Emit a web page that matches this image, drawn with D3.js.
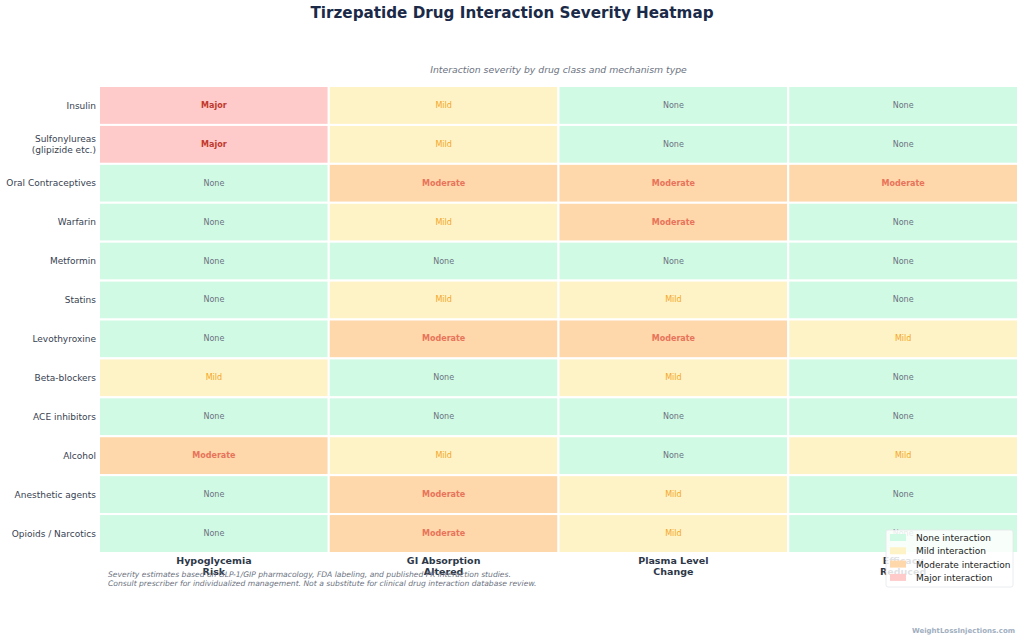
<!DOCTYPE html>
<html>
<head>
<meta charset="utf-8">
<script src="https://cdn.jsdelivr.net/npm/d3@7"></script>
<style>
  body { margin: 0; background: #fff; }
  svg { font-family: "DejaVu Sans", sans-serif; }
</style>
</head>
<body>
<div id="chart"></div>
<script>
// drug classes (rows) and mechanism types (columns)
const drugs = ["Insulin", "Sulfonylureas\n(glipizide etc.)", "Oral Contraceptives", "Warfarin", "Metformin",
  "Statins", "Levothyroxine", "Beta-blockers", "ACE inhibitors", "Alcohol", "Anesthetic agents", "Opioids / Narcotics"];
const mechanisms = ["Hypoglycemia\nRisk", "GI Absorption\nAltered", "Plasma Level\nChange", "Efficacy\nReduced"];
// 0 None, 1 Mild, 2 Moderate, 3 Major
const severity = [
  [3, 1, 0, 0],
  [3, 1, 0, 0],
  [0, 2, 2, 2],
  [0, 1, 2, 0],
  [0, 0, 0, 0],
  [0, 1, 1, 0],
  [0, 2, 2, 1],
  [1, 0, 1, 0],
  [0, 0, 0, 0],
  [2, 1, 0, 1],
  [0, 2, 1, 0],
  [0, 2, 1, 0]
];
const levels = ["None", "Mild", "Moderate", "Major"];
const fillColors = ["#d1fae5", "#fef3c7", "#fed7aa", "#fecaca"];
const textColors = ["#6b7280", "#f5a623", "#e8735a", "#c0392b"];

const width = 1024, height = 641;
const plot = {left: 99, right: 1018, top: 86, bottom: 553};

const svg = d3.select("#chart").append("svg")
  .attr("width", width)
  .attr("height", height);

const x = d3.scaleBand().domain(d3.range(mechanisms.length)).range([plot.left, plot.right]).padding(0);
const y = d3.scaleBand().domain(d3.range(drugs.length)).range([plot.top, plot.bottom]).padding(0);
const fill = d3.scaleOrdinal().domain(d3.range(4)).range(fillColors);
const tcol = d3.scaleOrdinal().domain(d3.range(4)).range(textColors);

// title
svg.append("text")
  .attr("x", 512).attr("y", 18)
  .attr("text-anchor", "middle")
  .attr("font-size", 15.2).attr("font-weight", "bold")
  .attr("fill", "#1a2a48")
  .text("Tirzepatide Drug Interaction Severity Heatmap");

svg.append("text")
  .attr("x", (plot.left + plot.right) / 2).attr("y", 73)
  .attr("text-anchor", "middle")
  .attr("font-size", 9.3).attr("font-style", "italic")
  .attr("fill", "#6b7280")
  .text("Interaction severity by drug class and mechanism type");

const cells = [];
severity.forEach((row, i) => row.forEach((v, j) => cells.push({i, j, v})));

const g = svg.append("g");
g.selectAll("rect").data(cells).join("rect")
  .attr("x", d => x(d.j))
  .attr("y", d => y(d.i))
  .attr("width", x.bandwidth())
  .attr("height", y.bandwidth())
  .attr("fill", d => fill(d.v))
  .attr("stroke", "#fff")
  .attr("stroke-width", 2);

g.selectAll("text.val").data(cells).join("text")
  .attr("class", "val")
  .attr("x", d => x(d.j) + x.bandwidth() / 2)
  .attr("y", d => y(d.i) + y.bandwidth() / 2)
  .attr("dy", "0.3em")
  .attr("text-anchor", "middle")
  .attr("font-size", 8)
  .attr("font-weight", d => d.v >= 2 ? "bold" : "normal")
  .attr("fill", d => tcol(d.v))
  .text(d => levels[d.v]);

// row labels
drugs.forEach((name, i) => {
  const lines = name.split("\n");
  const t = svg.append("text")
    .attr("text-anchor", "end")
    .attr("font-size", 9)
    .attr("fill", "#374151");
  lines.forEach((l, k) => {
    t.append("tspan")
      .attr("x", 96)
      .attr("y", y(i) + y.bandwidth() / 2 + 3.2 + (k - (lines.length - 1) / 2) * 11)
      .text(l);
  });
});

// column labels
mechanisms.forEach((name, j) => {
  const t = svg.append("text")
    .attr("text-anchor", "middle")
    .attr("font-size", 9.5).attr("font-weight", "bold")
    .attr("fill", "#2d3748");
  name.split("\n").forEach((l, k) => {
    t.append("tspan")
      .attr("x", x(j) + x.bandwidth() / 2)
      .attr("y", 564 + k * 11)
      .text(l);
  });
});

// footnote
const notes = ["Severity estimates based on GLP-1/GIP pharmacology, FDA labeling, and published PK interaction studies.",
  "Consult prescriber for individualized management. Not a substitute for clinical drug interaction database review."];
notes.forEach((n, k) => {
  svg.append("text")
    .attr("x", 108).attr("y", 577 + k * 9)
    .attr("font-size", 7.6).attr("font-style", "italic")
    .attr("fill", "#6b7280")
    .text(n);
});

// legend
const lg = svg.append("g").attr("transform", "translate(886,530)");
lg.append("rect")
  .attr("width", 127).attr("height", 57).attr("rx", 2)
  .attr("fill", "#fff").attr("fill-opacity", 0.85)
  .attr("stroke", "#e5e7eb").attr("stroke-width", 0.8);
levels.forEach((lvl, k) => {
  lg.append("rect")
    .attr("x", 4).attr("y", 4 + k * 13.3)
    .attr("width", 16).attr("height", 7)
    .attr("fill", fillColors[k]);
  lg.append("text")
    .attr("x", 30).attr("y", 11 + k * 13.3)
    .attr("font-size", 9)
    .attr("fill", "#222")
    .text(lvl + " interaction");
});

// watermark
svg.append("text")
  .attr("x", 1015).attr("y", 633)
  .attr("text-anchor", "end")
  .attr("font-size", 7).attr("font-weight", "bold")
  .attr("fill", "#a0aec0")
  .text("WeightLossInjections.com");
</script>
</body>
</html>
